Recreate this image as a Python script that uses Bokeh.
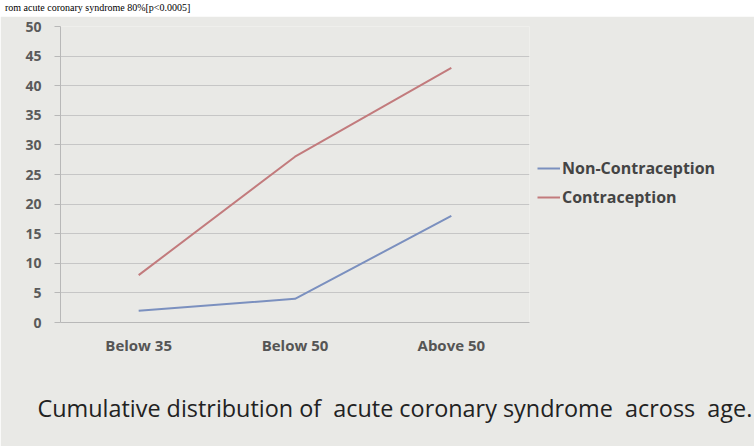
from bokeh.plotting import figure
from bokeh.models import (Legend, LegendItem, FixedTicker, Range1d, FactorRange,
                          Title, Div)
from bokeh.layouts import column
from bokeh.embed import file_html
from bokeh.resources import INLINE

categories = ["Below 35", "Below 50", "Above 50"]
non_contraception = [2, 4, 18]
contraception = [8, 28, 43]
y_ticks = [0, 5, 10, 15, 20, 25, 30, 35, 40, 45, 50]
series_names = ["Non-Contraception", "Contraception"]
caption = "Cumulative distribution of\u00a0 acute coronary syndrome\u00a0 across\u00a0 age."
top_text = "rom acute coronary syndrome 80%[p<0.0005]"

BG = "#e9e9e6"
BLUE = "#7b90bf"
RED = "#c27b7d"

top = Div(text=top_text, width=746, height=6,
          styles={"background-color": "white", "font-family": "Liberation Serif",
                  "font-size": "10px", "line-height": "6px",
                  "white-space": "nowrap", "color": "#000000"})

p = figure(x_range=FactorRange(*categories), y_range=Range1d(0, 50),
           frame_width=469, frame_height=296,
           output_backend="svg", toolbar_location=None,
           min_border_left=60, min_border_right=225, min_border_top=10,
           min_border_bottom=123)
p.background_fill_color = BG
p.border_fill_color = BG
p.outline_line_color = None

r1 = p.line(categories, non_contraception, line_color=BLUE, line_width=2)
r2 = p.line(categories, contraception, line_color=RED, line_width=2)

p.yaxis.ticker = FixedTicker(ticks=y_ticks)
p.yaxis.axis_line_color = "#b8b8b8"
p.yaxis.major_tick_line_color = "#b8b8b8"
p.yaxis.major_tick_out = 6
p.yaxis.major_tick_in = 0
p.yaxis.minor_tick_line_color = None
p.yaxis.major_label_standoff = 13
p.yaxis.major_label_text_font = "Open Sans"
p.yaxis.major_label_text_font_style = "bold"
p.yaxis.major_label_text_font_size = "14px"
p.yaxis.major_label_text_color = "#5a5a5a"

p.xaxis.axis_line_color = "#b8b8b8"
p.xaxis.major_tick_line_color = None
p.xaxis.major_tick_out = 0
p.xaxis.major_label_standoff = 12
p.xaxis.major_label_text_font = "Open Sans"
p.xaxis.major_label_text_font_style = "bold"
p.xaxis.major_label_text_font_size = "15px"
p.xaxis.major_label_text_color = "#555555"

p.xgrid.grid_line_color = None
p.ygrid.grid_line_color = "#c6c6c6"
p.ygrid.grid_line_width = 1

legend = Legend(items=[LegendItem(label=series_names[0], renderers=[r1]),
                       LegendItem(label=series_names[1], renderers=[r2])],
                location=(8, 114), orientation="vertical",
                border_line_color=None, background_fill_alpha=0,
                margin=0, padding=0, glyph_width=23, glyph_height=20,
                label_height=20, spacing=7, label_standoff=2,
                label_text_font="Open Sans", label_text_font_style="bold",
                label_text_font_size="16px", label_text_color="#444444")
p.add_layout(legend, "right")

p.add_layout(Title(text=caption, align="left", offset=-23, standoff=64,
                   text_font="Open Sans", text_font_style="normal",
                   text_font_size="23.4px", text_color="#222222"), "below")

layout = column(top, p, spacing=0)

open("out.html", "w").write(file_html(layout, INLINE))
